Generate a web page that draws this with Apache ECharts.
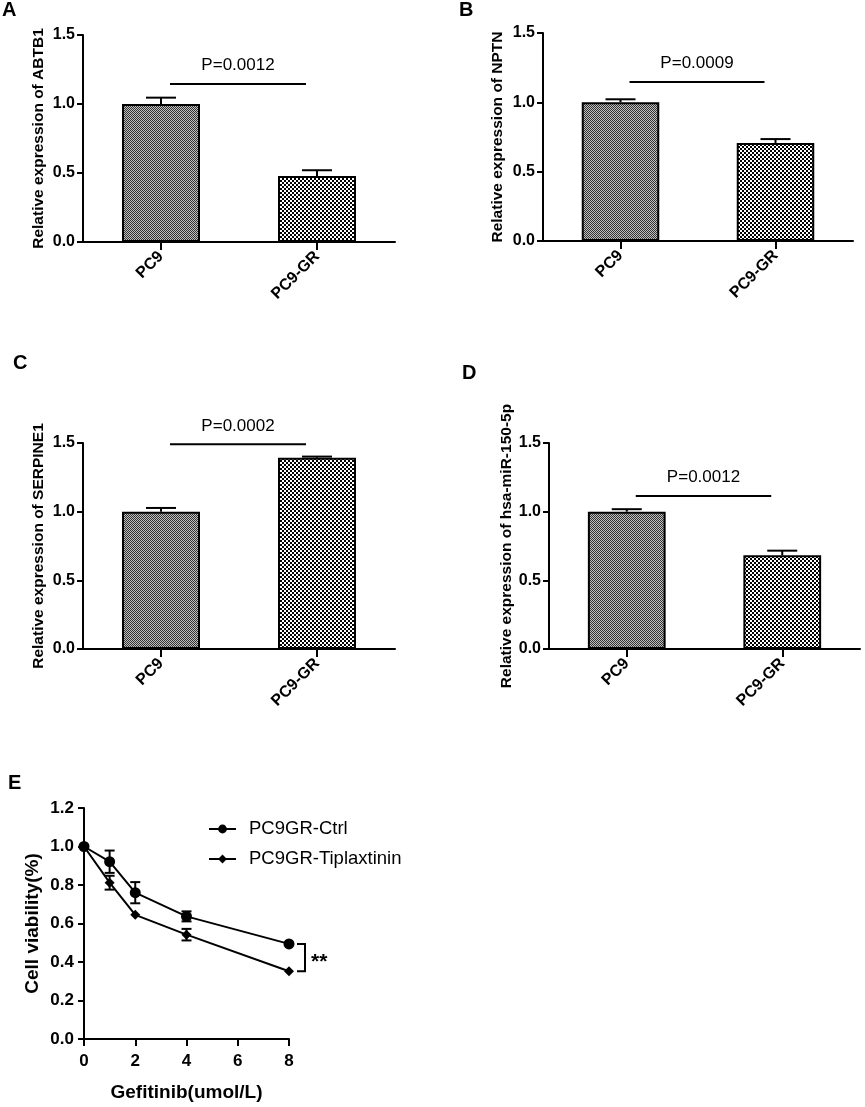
<!DOCTYPE html>
<html>
<head>
<meta charset="utf-8">
<script src="https://cdn.jsdelivr.net/npm/echarts@6/dist/echarts.min.js"></script>
<style>
  html, body { margin: 0; padding: 0; background: #fff; }
  #main { width: 865px; height: 1107px; }
</style>
</head>
<body>
<div id="main"></div>
<script>
// data
var groups = ['PC9', 'PC9-GR'];
var genes = ['ABTB1', 'NPTN', 'SERPINE1', 'hsa-miR-150-5p'];
var abtb1Mean = [1.0, 0.478], abtb1Err = [0.046, 0.042];
var nptnMean = [1.0, 0.707], nptnErr = [0.022, 0.028];
var serpineMean = [1.0, 1.393], serpineErr = [0.027, 0.008];
var mirMean = [1.0, 0.682], mirErr = [0.018, 0.034];
var pLabels = ['P=0.0012', 'P=0.0009', 'P=0.0002', 'P=0.0012'];
var pLevel = [1.145, 1.146, 1.49, 1.114];

var doses = [0, 1, 2, 4, 8];
var ctrlMean = [1.0, 0.921, 0.76, 0.637, 0.494];
var ctrlErr = [0, 0.058, 0.055, 0.026, 0];
var tipMean = [1.0, 0.812, 0.645, 0.542, 0.352];
var tipErr = [0, 0.036, 0, 0.03, 0];
var sigLabel = '**';

var FONT = 'Liberation Sans, Arial, sans-serif';
var chart = echarts.init(document.getElementById('main'));

// checker patterns for the bars
function checker(cell, dark, light) {
    var c = document.createElement('canvas');
    c.width = c.height = cell * 2;
    var ctx = c.getContext('2d');
    ctx.fillStyle = light;
    ctx.fillRect(0, 0, cell * 2, cell * 2);
    ctx.fillStyle = dark;
    ctx.fillRect(0, 0, cell, cell);
    ctx.fillRect(cell, cell, cell, cell);
    return c;
}
var patFine = { image: checker(1, '#333', '#c0c0c0'), repeat: 'repeat' };
var patCoarse = { image: checker(2, '#000', '#fff'), repeat: 'repeat' };

var grids = [
    { left: 83, top: 35, width: 312, height: 207 },
    { left: 543, top: 33, width: 310, height: 208 },
    { left: 83, top: 443, width: 312, height: 206 },
    { left: 549, top: 443, width: 311, height: 206 },
    { left: 84, top: 808, width: 205, height: 231 }
];
var nameGaps = [36, 37, 36, 34];
var means = [abtb1Mean, nptnMean, serpineMean, mirMean];
var errs = [abtb1Err, nptnErr, serpineErr, mirErr];

var axisLine = { show: true, lineStyle: { color: '#000', width: 2 } };
var axisTick = { show: true, length: 6, lineStyle: { color: '#000', width: 2 } };

var xAxes = [], yAxes = [], series = [];

// upper error bar on the bar charts
function upperErr(params, api) {
    var p0 = api.coord([api.value(0), api.value(1)]);
    var p1 = api.coord([api.value(0), api.value(1) + api.value(2)]);
    var st = { stroke: '#000', lineWidth: 2 };
    return { type: 'group', children: [
        { type: 'line', shape: { x1: p0[0], y1: p0[1], x2: p1[0], y2: p1[1] }, style: st },
        { type: 'line', shape: { x1: p1[0] - 15, y1: p1[1], x2: p1[0] + 15, y2: p1[1] }, style: st }
    ] };
}

genes.forEach(function (g, k) {
    xAxes.push({
        gridIndex: k, type: 'category', data: groups,
        axisLine: axisLine,
        axisTick: { show: true, alignWithLabel: true, length: 8, lineStyle: { color: '#000', width: 2 } },
        axisLabel: { rotate: 45, margin: 12, color: '#000', fontFamily: FONT, fontWeight: 'bold', fontSize: 16 }
    });
    yAxes.push({
        gridIndex: k, type: 'value', min: 0, max: 1.5, interval: 0.5,
        axisLine: axisLine, axisTick: axisTick, splitLine: { show: false },
        axisLabel: { margin: 8, color: '#000', fontFamily: FONT, fontWeight: 'bold', fontSize: 16,
            formatter: function (v) { return v.toFixed(1); } },
        name: 'Relative expression of ' + g, nameLocation: 'middle', nameGap: nameGaps[k],
        nameTextStyle: { color: '#000', fontFamily: FONT, fontWeight: 'bold', fontSize: 15.5 }
    });
    series.push({
        type: 'bar', xAxisIndex: k, yAxisIndex: k, barWidth: '50%',
        data: means[k].map(function (v, i) {
            return { value: v, itemStyle: { color: i === 0 ? patFine : patCoarse, borderColor: '#000', borderWidth: 2 } };
        })
    });
    series.push({
        type: 'custom', xAxisIndex: k, yAxisIndex: k, z: 3,
        renderItem: upperErr, encode: { x: 0, y: 1 },
        data: means[k].map(function (v, i) { return [i, v, errs[k][i]]; })
    });
    series.push({
        type: 'custom', xAxisIndex: k, yAxisIndex: k, z: 3, encode: { x: 0, y: 2 },
        data: [[0, 1, pLevel[k]]],
        renderItem: function (params, api) {
            var a = api.coord([api.value(0), api.value(2)]);
            var b = api.coord([api.value(1), api.value(2)]);
            return { type: 'group', children: [
                { type: 'line', shape: { x1: a[0] + 9, y1: a[1], x2: b[0] - 11, y2: b[1] },
                  style: { stroke: '#000', lineWidth: 2 } },
                { type: 'text', x: (a[0] + b[0]) / 2 - 1, y: a[1] - 10,
                  style: { text: pLabels[k], fill: '#000', font: '17px ' + FONT, align: 'center', verticalAlign: 'bottom' } }
            ] };
        }
    });
});

// panel E
xAxes.push({
    gridIndex: 4, type: 'value', min: 0, max: 8, interval: 2,
    axisLine: axisLine, axisTick: { show: true, length: 7, lineStyle: { color: '#000', width: 2 } },
    splitLine: { show: false },
    axisLabel: { margin: 14, color: '#000', fontFamily: FONT, fontWeight: 'bold', fontSize: 17 },
    name: 'Gefitinib(umol/L)', nameLocation: 'middle', nameGap: 44,
    nameTextStyle: { color: '#000', fontFamily: FONT, fontWeight: 'bold', fontSize: 19 }
});
yAxes.push({
    gridIndex: 4, type: 'value', min: 0, max: 1.2, interval: 0.2,
    axisLine: axisLine, axisTick: axisTick, splitLine: { show: false },
    axisLabel: { margin: 10, color: '#000', fontFamily: FONT, fontWeight: 'bold', fontSize: 17,
        formatter: function (v) { return v.toFixed(1); } },
    name: 'Cell viability(%)', nameLocation: 'middle', nameGap: 42,
    nameTextStyle: { color: '#000', fontFamily: FONT, fontWeight: 'bold', fontSize: 19 }
});

function pairs(m) { return doses.map(function (d, i) { return [d, m[i]]; }); }
function triples(m, e) { return doses.map(function (d, i) { return [d, m[i], e[i]]; }); }

function bothErr(params, api) {
    var e = api.value(2);
    if (!e) return null;
    var x = api.value(0), m = api.value(1);
    var lo = api.coord([x, m - e]), hi = api.coord([x, m + e]);
    var st = { stroke: '#000', lineWidth: 2 };
    return { type: 'group', children: [
        { type: 'line', shape: { x1: lo[0], y1: lo[1], x2: hi[0], y2: hi[1] }, style: st },
        { type: 'line', shape: { x1: hi[0] - 5, y1: hi[1], x2: hi[0] + 5, y2: hi[1] }, style: st },
        { type: 'line', shape: { x1: lo[0] - 5, y1: lo[1], x2: lo[0] + 5, y2: lo[1] }, style: st }
    ] };
}

series.push({
    name: 'PC9GR-Ctrl', type: 'line', xAxisIndex: 4, yAxisIndex: 4,
    symbol: 'circle', symbolSize: 11, z: 4,
    lineStyle: { color: '#000', width: 2 }, itemStyle: { color: '#000' },
    data: pairs(ctrlMean)
});
series.push({
    name: 'PC9GR-Tiplaxtinin', type: 'line', xAxisIndex: 4, yAxisIndex: 4,
    symbol: 'diamond', symbolSize: 10, z: 4,
    lineStyle: { color: '#000', width: 2 }, itemStyle: { color: '#000' },
    data: pairs(tipMean)
});
series.push({ type: 'custom', xAxisIndex: 4, yAxisIndex: 4, z: 3, renderItem: bothErr,
    encode: { x: 0, y: 1 }, data: triples(ctrlMean, ctrlErr) });
series.push({ type: 'custom', xAxisIndex: 4, yAxisIndex: 4, z: 3, renderItem: bothErr,
    encode: { x: 0, y: 1 }, data: triples(tipMean, tipErr) });
// significance bracket at the last dose
series.push({
    type: 'custom', xAxisIndex: 4, yAxisIndex: 4, z: 3, encode: { x: 0, y: 1 },
    data: [[doses[4], ctrlMean[4], tipMean[4]]],
    renderItem: function (params, api) {
        var a = api.coord([api.value(0), api.value(1)]);
        var b = api.coord([api.value(0), api.value(2)]);
        var x = a[0] + 16;
        return { type: 'group', children: [
            { type: 'polyline', shape: { points: [[x - 8, a[1]], [x, a[1]], [x, b[1]], [x - 8, b[1]]] },
              style: { stroke: '#000', lineWidth: 2, fill: null } },
            { type: 'text', x: x + 6, y: (a[1] + b[1]) / 2 + 5,
              style: { text: sigLabel, fill: '#000', font: 'bold 21px ' + FONT, align: 'left', verticalAlign: 'middle' } }
        ] };
    }
});

var letterStyle = { color: '#000', fontFamily: FONT, fontWeight: 'bold', fontSize: 20 };
chart.setOption({
    animation: false,
    backgroundColor: '#fff',
    title: [
        { text: 'A', left: 2, top: 0, textStyle: letterStyle, padding: 0 },
        { text: 'B', left: 459, top: 0, textStyle: letterStyle, padding: 0 },
        { text: 'C', left: 13, top: 353, textStyle: letterStyle, padding: 0 },
        { text: 'D', left: 462, top: 363, textStyle: letterStyle, padding: 0 },
        { text: 'E', left: 8, top: 773, textStyle: letterStyle, padding: 0 }
    ],
    legend: {
        data: ['PC9GR-Ctrl', 'PC9GR-Tiplaxtinin'],
        orient: 'vertical', left: 203, top: 814, itemWidth: 27, itemHeight: 11, itemGap: 10,
        textStyle: { color: '#000', fontFamily: FONT, fontSize: 18.5, lineHeight: 20, padding: [0, 0, 0, 8] }
    },
    grid: grids,
    xAxis: xAxes,
    yAxis: yAxes,
    series: series
});
</script>
</body>
</html>
